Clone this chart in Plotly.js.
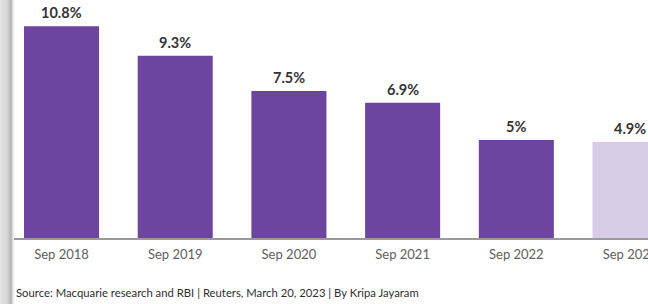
<!DOCTYPE html>
<html>
<head>
<meta charset="utf-8">
<script src="https://cdn.plot.ly/plotly-3.0.1.min.js"></script>
<style>
  html, body { margin: 0; padding: 0; width: 648px; height: 304px; overflow: hidden;
    background: linear-gradient(to right, #e6e6e6 0px, #d2d2d2 8px, #b0b0b0 11px, #e8e8e8 13px, #ffffff 15px); }
  #chart { width: 648px; height: 304px; }
</style>
</head>
<body>
<div id="chart"></div>
<script>
const categories = ["Sep 2018", "Sep 2019", "Sep 2020", "Sep 2021", "Sep 2022", "Sep 2023"];
const values = [10.8, 9.3, 7.5, 6.9, 5, 4.9];
const valueLabels = ["10.8%", "9.3%", "7.5%", "6.9%", "5%", "4.9%"];
const barColors = ["#6d45a0", "#6d45a0", "#6d45a0", "#6d45a0", "#6d45a0", "#d8cde6"];
const sourceText = "Source: Macquarie research and RBI | Reuters, March 20, 2023 | By Kripa Jayaram";

const FONT = "Lato, 'Open Sans', sans-serif";

const trace = {
  type: "bar",
  x: categories,
  y: values,
  marker: { color: barColors, line: { width: 0 } },
  hoverinfo: "none"
};

const annotations = categories.map((c, i) => ({
  x: c, y: values[i], xref: "x", yref: "y",
  text: "<b>" + valueLabels[i] + "</b>",
  showarrow: false, yanchor: "bottom", yshift: 3,
  font: { family: FONT, size: 14.5, color: "#333333" }
}));
annotations.push({
  xref: "paper", yref: "paper", x: 0, y: -0.231, xanchor: "left", yanchor: "middle",
  text: sourceText, showarrow: false,
  font: { family: FONT, size: 11.3, color: "#2e2e2e" }
});

const layout = {
  width: 648, height: 304,
  margin: { l: 14, r: 0, t: 0, b: 66 },
  paper_bgcolor: "rgba(0,0,0,0)",
  plot_bgcolor: "rgba(0,0,0,0)",
  bargap: 0.34,
  showlegend: false,
  xaxis: {
    type: "category",
    range: [-0.418, 5.158],
    showgrid: false, zeroline: false,
    showline: true, linecolor: "#9a9a9a", linewidth: 1.5,
    ticks: "", ticklen: 0,
    ticklabelstandoff: 4,
    tickfont: { family: FONT, size: 13, color: "#5e5e5e" },
    fixedrange: true
  },
  yaxis: {
    range: [0, 12.14],
    visible: false, showgrid: false, zeroline: false,
    fixedrange: true
  },
  annotations: annotations
};

Plotly.newPlot("chart", [trace], layout, { displayModeBar: false, staticPlot: true });
</script>
</body>
</html>
